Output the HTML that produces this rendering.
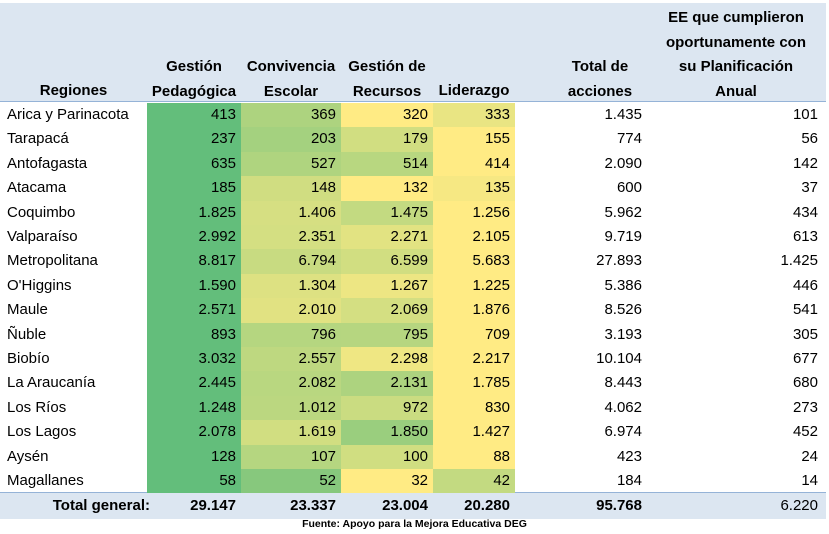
<!DOCTYPE html>
<html><head><meta charset="utf-8">
<style>
body{margin:0;width:829px;height:534px;background:#fff;font-family:"Liberation Sans",sans-serif;position:relative;overflow:hidden}
.a{position:absolute;white-space:nowrap}
.h{font-weight:bold;font-size:15px;color:#000;text-align:center;line-height:24.5px}
.c{font-size:15px;line-height:24.4px;height:24.4px;text-align:right;padding-right:5px;box-sizing:border-box;color:#000}
#rows .c{z-index:2}
</style></head><body>
<div class="a" style="left:0;top:3px;width:826px;height:98px;background:#DCE6F1"></div>
<div class="a" style="left:0;top:101px;width:826px;height:1px;background:#95B3D7"></div>
<div class="a h" style="left:0;width:147px;top:79px">Regiones</div>
<div class="a h" style="left:147px;width:94px;top:55px">Gestión<br>Pedagógica</div>
<div class="a h" style="left:241px;width:100px;top:55px">Convivencia<br>Escolar</div>
<div class="a h" style="left:341px;width:92px;top:55px">Gestión de<br>Recursos</div>
<div class="a h" style="left:433px;width:82px;top:79px">Liderazgo</div>
<div class="a h" style="left:555px;width:90px;top:55px">Total de<br>acciones</div>
<div class="a h" style="left:648px;width:176px;top:6px">EE que cumplieron<br>oportunamente con<br>su Planificación<br>Anual</div>
<div class="a" style="left:0;top:492px;width:826px;height:26px;background:#DCE6F1;border-top:1px solid #95B3D7;z-index:1"></div>
<div id="rows"></div>
<div class="a" style="left:0;width:829px;top:518px;text-align:center;font-size:10.5px;font-weight:bold">Fuente: Apoyo para la Mejora Educativa DEG</div>
<script>
const regions=["Arica y Parinacota","Tarapacá","Antofagasta","Atacama","Coquimbo","Valparaíso","Metropolitana","O'Higgins","Maule","Ñuble","Biobío","La Araucanía","Los Ríos","Los Lagos","Aysén","Magallanes"];
const pedagogica=[413,237,635,185,1825,2992,8817,1590,2571,893,3032,2445,1248,2078,128,58];
const convivencia=[369,203,527,148,1406,2351,6794,1304,2010,796,2557,2082,1012,1619,107,52];
const recursos=[320,179,514,132,1475,2271,6599,1267,2069,795,2298,2131,972,1850,100,32];
const liderazgo=[333,155,414,135,1256,2105,5683,1225,1876,709,2217,1785,830,1427,88,42];
const totalAcciones=[1435,774,2090,600,5962,9719,27893,5386,8526,3193,10104,8443,4062,6974,423,184];
const eeCumplieron=[101,56,142,37,434,613,1425,446,541,305,677,680,273,452,24,14];
const totals=["29.147","23.337","23.004","20.280","95.768","6.220"];
const fmt=v=>v.toString().replace(/\B(?=(\d{3})+(?!\d))/g,".");
const cols=[[147,94],[241,100],[341,92],[433,82]];
const rowsEl=document.getElementById('rows');
function cell(x,w,y,txt,bg,name,bold){
  const d=document.createElement('div');
  d.className='a c';
  d.style.left=x+'px';d.style.width=w+'px';d.style.top=y+'px';
  if(bg)d.style.background=bg;
  if(bold)d.style.fontWeight='bold';
  d.textContent=txt;
  
  
  rowsEl.appendChild(d);return d;
}
function color(t){const g=[99,190,123],y=[255,235,132];return 'rgb('+g.map((v,i)=>Math.round(y[i]+(v-y[i])*t)).join(',')+')';}
regions.forEach((r,i)=>{
  const y=103+i*24.4;
  const vals=[pedagogica[i],convivencia[i],recursos[i],liderazgo[i]];
  const mn=Math.min(...vals),mx=Math.max(...vals);
  const l=cell(0,147,y,r,null,'region-label');l.style.textAlign='left';l.style.paddingLeft='7px';
  vals.forEach((v,j)=>{cell(cols[j][0],cols[j][1],y,fmt(v),color(mx>mn?(v-mn)/(mx-mn):1),'heat-cell');});
  cell(515,132,y,fmt(totalAcciones[i]),null,'total-acciones-cell');
  cell(648,175,y,fmt(eeCumplieron[i]),null,'ee-cumplieron-cell');
});
const tx=[[147,94],[241,100],[341,92],[433,82],[515,132]];
const ty=494;
const tl=cell(0,155,ty,'Total general:',null,'total-general-label',true);tl.style.textAlign='right';
tx.forEach((c,j)=>cell(c[0],c[1],ty,totals[j],null,'total-value',true));
cell(648,175,ty,totals[5],null,'total-ee-value',false);
</script>
</body></html>
